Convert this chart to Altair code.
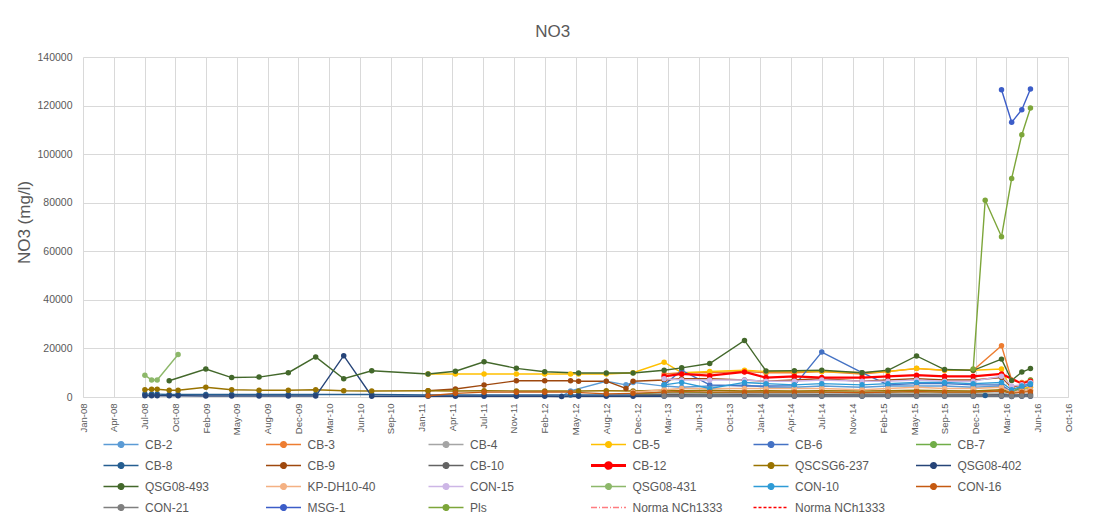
import datetime as dt
import altair as alt
import pandas as pd

N = None

# sampling dates (x) ------------------------------------------------------
DATES = [
    "2008-07-20", "2008-08-11", "2008-08-29", "2008-10-07", "2008-11-05",
    "2009-02-03", "2009-04-28", "2009-07-26", "2009-10-29", "2010-01-26",
    "2010-04-27", "2010-07-27", "2011-01-26", "2011-04-25", "2011-07-27",
    "2011-11-09", "2012-02-09", "2012-04-04", "2012-05-03", "2012-05-29",
    "2012-08-27", "2012-10-30", "2012-11-22", "2013-03-03", "2013-04-29",
    "2013-07-29", "2013-11-19", "2014-01-28", "2014-04-30", "2014-07-28",
    "2014-12-06", "2015-02-28", "2015-06-01", "2015-08-31", "2015-12-02",
    "2016-01-10", "2016-03-03", "2016-04-05", "2016-05-08", "2016-06-05",
]

# series values (NO3 mg/l), aligned with DATES ----------------------------
CB_2 = [N] * 17 + [300, 2500, N] + [6500, 5000, 6000, 4500, 4000, 4500, 5000, 4000, 4000, 4500] + [4000, 4500, 4500, 4500, 4000, N, 4500, 1500, 3000, 4000]
CB_3 = [N] * 23 + [9500, 10000, 10000, 10500, 10000, 10000, 10500] + [9500, 10500, 11700, 11000, 11000, N, 21100, 7000, 6000, 7000]
CB_4 = [N] * 22 + [1500, 1500, 1600, 1500, 1400, 1500, 1500, 1600] + [1500, 1500, 1600, 1500, 1500, N, 1700, 1000, 1200, 1400]
CB_5 = [N] * 12 + [9500, 9500, 9500, 9500, 9500, N, 9500, 9500] + [9500, N, 10000, 14300, 10000, 10500, 11000, 10500, 10500, 10500] + [10000, 10500, 11800, 11000, 11000, N, 11500, 2500, 3500, 4000]
CB_6 = [N] * 23 + [5000, 11000, 5000, 4500, 4500, 4700, 18500] + [10000, 5000, 5500, 5500, 5000, N, 5000, 2000, 4000, 5000]
CB_7 = [N] * 22 + [1200, 2000, 2000, 1800, 2000, 2000, 2000, 2000] + [1800, 2000, 2200, 2000, 2000, N, 2500, 1500, 5000, 7000]
CB_8 = [1200, 1200, 1200, 1000, 1000, 1000, 1000, 1000, 1000, 1000] + [N, 1000, 800, 800, 800, 800, 800, N, 800, 800] + [800, N, 800, 700, 700, 700, 700, 700, 700, 700] + [700, 700, 700, 700, 800, 600, 900, 700, 800, 900]
CB_9 = [N] * 12 + [2600, 3300, 4900, 6700, 6700, N, 6700, 6500] + [6500, 3500, 6500, 7000, 7500, 7500, 7000, 6500, 7000, 7500] + [6500, 7000, 7500, 7000, 7000, N, 8000, 4000, 5000, 6000]
CB_10 = [N] * 22 + [800, 900, 900, 800, 900, 800, 800, 900] + [800, 800, 900, 800, 800, N, 900, 600, 700, 800]
CB_12 = [N] * 23 + [8500, 9500, 8800, 10300, 8000, 8500, 8000] + [8000, 8500, 9000, 8500, 8500, N, 9500, N, 5500, 6500]
QSCSG6_237 = [3000, 3200, 3200, 2800, 2800, 4000, 3000, 2800, 2800, 3000] + [2600, 2500, 2600, 2500, 2600, 2500, 2500, N, N, 2500] + [2600, N, 2500, 2800, 2600, 2800, 2500, 2600, 2500, 2600] + [2500, 2600, 2800, 2600, 2500, N, 3000, 2000, 2500, 2800]
QSG08_402 = [500, 500, 500, 500, 500, 400, 400, 400, 400, 400] + [17000, 300, 300, 300, 300, 300, 300, 200, N, 300] + [300, N, 300, 300, 300, 300, 300, 300, 300, 300] + [300, 300, 300, 300, 300, N, 300, 200, 300, 300]
QSG08_493 = [N, N, N, 6700, N, 11500, 8000, 8200, 10000, 16500] + [7500, 10800, 9500, 10600, 14500, 11800, 10400, N, N, 9900] + [9900, N, 9900, 11000, 12000, 13800, 23300, 10700, 10800, 11000] + [10000, 11000, 16900, 11300, 11000, N, 15600, 6800, 10300, 11700]
KP_DH10_40 = [N] * 22 + [2000, 3000, 3500, 3500, 3500, 3500, 3500, 3500] + [3000, 3500, 4000, 3500, 3500, N, 4000, 2000, 2500, 3000]
CON_15 = [N] * 23 + [7500, 7000, 7000, 7000, 6500, 6500, 7000] + [6500, 6500, 7000, 6500, 6500, N, 8500, 4500, 5000, 6000]
QSG08_431 = [9000, 7000, 7000, N, 17500] + [N] * 35
CON_10 = [N] * 23 + [5000, 6000, 3500, 6000, 5500, 5000, 5500] + [5000, 5500, 6000, 6000, 5500, N, 6000, 3000, 4500, 5500]
CON_16 = [N] * 12 + [500, 1500, 2000, 2000, 2000, N, 2000, N] + [1300, N, 1500, 2000, 2200, 2000, 2000, 2000, 2000, 2000] + [1800, 2000, 2200, 2000, 2000, N, 2500, 1500, 2000, 2200]
CON_21 = [N] * 23 + [400] * 7 + [400, 400, 400, 400, 400, N, 400, 300, 400, 400]
MSG_1 = [N] * 36 + [126500, 113100, 118300, 126800]
PLS = [N] * 34 + [11500, 81000, 66000, 90000, 108000, 119000]

SERIES = ["CB-2", "CB-3", "CB-4", "CB-5", "CB-6", "CB-7",
          "CB-8", "CB-9", "CB-10", "CB-12", "QSCSG6-237", "QSG08-402",
          "QSG08-493", "KP-DH10-40", "CON-15", "QSG08-431", "CON-10", "CON-16",
          "CON-21", "MSG-1", "Pls"]
VALUES = [CB_2, CB_3, CB_4, CB_5, CB_6, CB_7,
          CB_8, CB_9, CB_10, CB_12, QSCSG6_237, QSG08_402,
          QSG08_493, KP_DH10_40, CON_15, QSG08_431, CON_10, CON_16,
          CON_21, MSG_1, PLS]
COLORS = ["#5B9BD5", "#ED7D31", "#A5A5A5", "#FFC000", "#4472C4", "#70AD47",
          "#255E91", "#9E480E", "#636363", "#FF0000", "#997300", "#264478",
          "#43682B", "#F4B183", "#CDB6E6", "#8DB86A", "#2E9BD6", "#C55A11",
          "#7F7F7F", "#3C5DC8", "#7DA63A"]
NORMA_KEYS = ["Norma NCh1333 (a)", "Norma NCh1333 (b)"]
NORMA_LABELS = ["Norma NCh1333", "Norma NCh1333"]
NORMA_COLORS = ["#FF7C80", "#FF0000"]

Y_TICKS = [0, 20000, 40000, 60000, 80000, 100000, 120000, 140000]

# ------------------------------------------------------------------------
rows = []
for name, vals in zip(SERIES, VALUES):
    assert len(vals) == len(DATES), name
    for d, v in zip(DATES, vals):
        if v is not None:
            rows.append({"series": name, "date": d, "no3": v})
df = pd.DataFrame(rows)

TXT = "#595959"
GRID = "#D9D9D9"
FONT = "Liberation Sans"

start = dt.date(2008, 1, 1)
tick_dates = [start + dt.timedelta(days=100 * k) for k in range(33)]
x_values = [alt.DateTime(year=t.year, month=t.month, date=t.day, utc=True) for t in tick_dates]
x_end = tick_dates[-1]

x_enc = alt.X(
    "date:T",
    scale=alt.Scale(type="utc", domain=[
        alt.DateTime(year=start.year, month=start.month, date=start.day, utc=True),
        alt.DateTime(year=x_end.year, month=x_end.month, date=x_end.day, utc=True)]),
    axis=alt.Axis(values=x_values, labelExpr="utcFormat(datum.value, '%b-%y')", labelAngle=270,
                  labelFlush=False, labelOverlap=False, ticks=False, grid=True,
                  gridColor=GRID, domainColor=GRID, labelColor=TXT, labelFontSize=9.5,
                  labelPadding=6, title=None),
)
y_enc = alt.Y(
    "no3:Q",
    scale=alt.Scale(domain=[0, 140000], nice=False),
    axis=alt.Axis(values=Y_TICKS, format="d", ticks=False, domain=False, grid=True,
                  gridColor=GRID, labelColor=TXT, labelFontSize=10.5, labelPadding=11,
                  title="NO3 (mg/l)", titleFontSize=17, titleFontWeight="normal",
                  titleColor=TXT, titleX=-59, titleY=165, titleBaseline="middle"),
)
color_enc = alt.Color("series:N", scale=alt.Scale(domain=SERIES, range=COLORS), legend=None)
width_enc = alt.when(alt.datum.series == "CB-12").then(alt.value(2.2)).otherwise(alt.value(1.4))

base = alt.Chart(df).encode(x=x_enc, y=y_enc, color=color_enc)
lines = base.mark_line().encode(strokeWidth=width_enc, detail="series:N")
points = base.mark_point(filled=True, size=30, opacity=1)
main = alt.layer(lines, points).properties(width=985, height=340)

# legend panel ----------------------------------------------------------
LEG_KEYS = SERIES + NORMA_KEYS
leg = pd.DataFrame({"key": LEG_KEYS, "label": SERIES + NORMA_LABELS})
leg["col"] = [i % 6 for i in range(len(leg))]
leg["row"] = [i // 6 for i in range(len(leg))]

LINE_DOT = "M-2.5,0L2.5,0M0.4,0A0.4,0.4,0,1,1,-0.4,0A0.4,0.4,0,1,1,0.4,0Z"
LINE_ONLY = "M-2.5,0L2.5,0"

lx = alt.X("col:Q", scale=alt.Scale(domain=[0, 6], nice=False, zero=False), axis=None)
ly = alt.Y("row:Q", scale=alt.Scale(domain=[-0.5, 3.5], nice=False, zero=False, reverse=True), axis=None)
leg_base = alt.Chart(leg).encode(x=lx, y=ly)
leg_sym = leg_base.mark_point(size=196, filled=True, opacity=1, xOffset=38).encode(
    shape=alt.Shape("key:N", scale=alt.Scale(domain=LEG_KEYS, range=[LINE_DOT] * len(SERIES) + [LINE_ONLY] * 2), legend=None),
    fill=alt.Fill("key:N", scale=alt.Scale(domain=LEG_KEYS, range=COLORS + ["transparent", "transparent"]), legend=None),
    stroke=alt.Stroke("key:N", scale=alt.Scale(domain=LEG_KEYS, range=COLORS + NORMA_COLORS), legend=None),
    strokeDash=alt.StrokeDash("key:N", scale=alt.Scale(domain=LEG_KEYS, range=[[1, 0]] * len(SERIES) + [[6, 2, 1, 2], [3, 2]]), legend=None),
    strokeWidth=alt.when(alt.datum.key == "CB-12").then(alt.value(3)).otherwise(alt.value(1.5)),
)
leg_txt = leg_base.mark_text(align="left", baseline="middle", dx=62, fontSize=12, color=TXT).encode(text="label:N")
legend = alt.layer(leg_sym, leg_txt).properties(width=975, height=84)

chart = alt.vconcat(main, legend, spacing=37, bounds="flush").properties(
    title=alt.TitleParams("NO3", fontSize=17, fontWeight="normal", color=TXT,
                          anchor="middle", dx=9, offset=11),
    padding={"left": 7, "top": 15, "right": 5, "bottom": 0},
).configure(
    font=FONT, background="white",
    view=alt.ViewConfig(stroke="transparent", strokeWidth=0),
)

chart.save("out.html", embed_options={"renderer": "svg", "actions": False})
